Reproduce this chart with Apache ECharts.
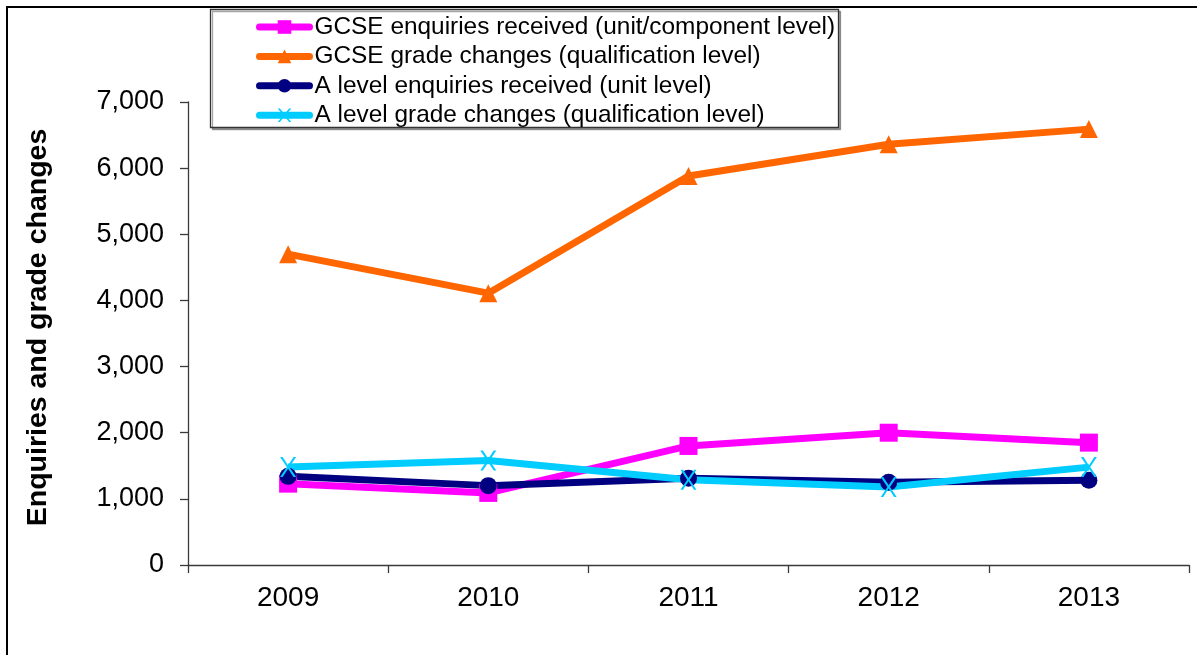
<!DOCTYPE html>
<html>
<head>
<meta charset="utf-8">
<script src="https://cdn.jsdelivr.net/npm/echarts@6/dist/echarts.min.js"></script>
<style>
  html, body { margin: 0; padding: 0; background: #fff; }
  #chart { width: 1197px; height: 655px; }
</style>
</head>
<body>
<div id="chart"></div>
<script>
// Years on the category axis
const years = ['2009', '2010', '2011', '2012', '2013'];

// Series values
const gcseEnquiries = [1230, 1090, 1800, 2000, 1850];
const gcseGradeChanges = [4700, 4110, 5880, 6360, 6590];
const aLevelEnquiries = [1340, 1200, 1310, 1250, 1280];
const aLevelGradeChanges = [1480, 1580, 1290, 1180, 1480];

// Series names shown in the legend
const seriesNames = [
  'GCSE enquiries received (unit/component level)',
  'GCSE grade changes (qualification level)',
  'A level enquiries received (unit level)',
  'A level grade changes (qualification level)'
];

// Value axis range
const yMin = 0, yMax = 7000, yStep = 1000;

const FONT = '"Liberation Sans", Arial, sans-serif';
const AXIS_COLOR = '#3a3a3a';

// Thin filled "x" shaped marker
const crossSymbol = 'path://M0,0 L1.6,0 L5,4.6 L8.4,0 L10,0 L5.8,5.5 L10,11 L8.4,11 L5,6.4 L1.6,11 L0,11 L4.2,5.5 Z';

const chart = echarts.init(document.getElementById('chart'), null, { renderer: 'canvas' });

function lineSeries(name, data, color, symbol, size) {
  return {
    name: name,
    type: 'line',
    data: data,
    symbol: symbol,
    symbolSize: size,
    showSymbol: true,
    lineStyle: { color: color, width: 7, join: 'round' },
    itemStyle: { color: color, borderWidth: 0 },
    emphasis: { disabled: true },
    z: 3
  };
}

chart.setOption({
  animation: false,
  backgroundColor: '#fff',
  textStyle: { fontFamily: FONT },
  grid: { left: 188, top: 102, right: 8, bottom: 90, containLabel: false },
  graphic: [
    {
      type: 'rect',
      shape: { x: 7, y: 7, width: 1220, height: 700 },
      style: { fill: 'none', stroke: '#000', lineWidth: 2 },
      silent: true,
      z: 0
    },
    {
      type: 'rect',
      shape: { x: 210.5, y: 9.5, width: 628, height: 118 },
      style: { fill: '#fff', stroke: '#333', lineWidth: 1.3, shadowColor: 'rgba(0,0,0,0.35)', shadowOffsetX: 2, shadowOffsetY: 2 },
      silent: true,
      z: 1
    }
  ],
  legend: {
    orient: 'vertical',
    left: 210,
    top: 9,
    padding: [6, 10, 4, 46],
    itemWidth: 50,
    itemHeight: 17,
    itemGap: 5.4,
    lineStyle: { width: 7, cap: 'round' },
    textStyle: { fontFamily: FONT, fontSize: 24.4, color: '#000', lineHeight: 22 },
    selectedMode: false,
    data: seriesNames,
    z: 5
  },
  xAxis: {
    type: 'category',
    data: years,
    boundaryGap: true,
    axisLine: { lineStyle: { color: AXIS_COLOR, width: 1.3 } },
    axisTick: { show: true, alignWithLabel: false, length: 8, lineStyle: { color: AXIS_COLOR, width: 1.3 } },
    axisLabel: { fontFamily: FONT, fontSize: 28, color: '#000', margin: 19 },
    splitLine: { show: false }
  },
  yAxis: {
    type: 'value',
    min: yMin,
    max: yMax,
    interval: yStep,
    name: 'Enquiries and grade changes',
    nameLocation: 'middle',
    nameRotate: 90,
    nameGap: 135,
    nameTextStyle: { fontFamily: FONT, fontSize: 28.5, fontWeight: 'bold', color: '#000', padding: [0, 0, 0, 12] },
    axisLine: { show: true, lineStyle: { color: AXIS_COLOR, width: 1.3 } },
    axisTick: { show: true, length: 8, lineStyle: { color: AXIS_COLOR, width: 1.3 } },
    axisLabel: {
      fontFamily: FONT, fontSize: 27, color: '#000', margin: 24,
      formatter: v => v.toLocaleString('en-US')
    },
    splitLine: { show: false }
  },
  series: [
    lineSeries(seriesNames[0], gcseEnquiries, '#FF00FF', 'rect', 18),
    lineSeries(seriesNames[1], gcseGradeChanges, '#FF6600', 'triangle', 18),
    lineSeries(seriesNames[2], aLevelEnquiries, '#000080', 'circle', 17),
    lineSeries(seriesNames[3], aLevelGradeChanges, '#00CCFF', crossSymbol, [16, 20])
  ]
});
</script>
</body>
</html>
